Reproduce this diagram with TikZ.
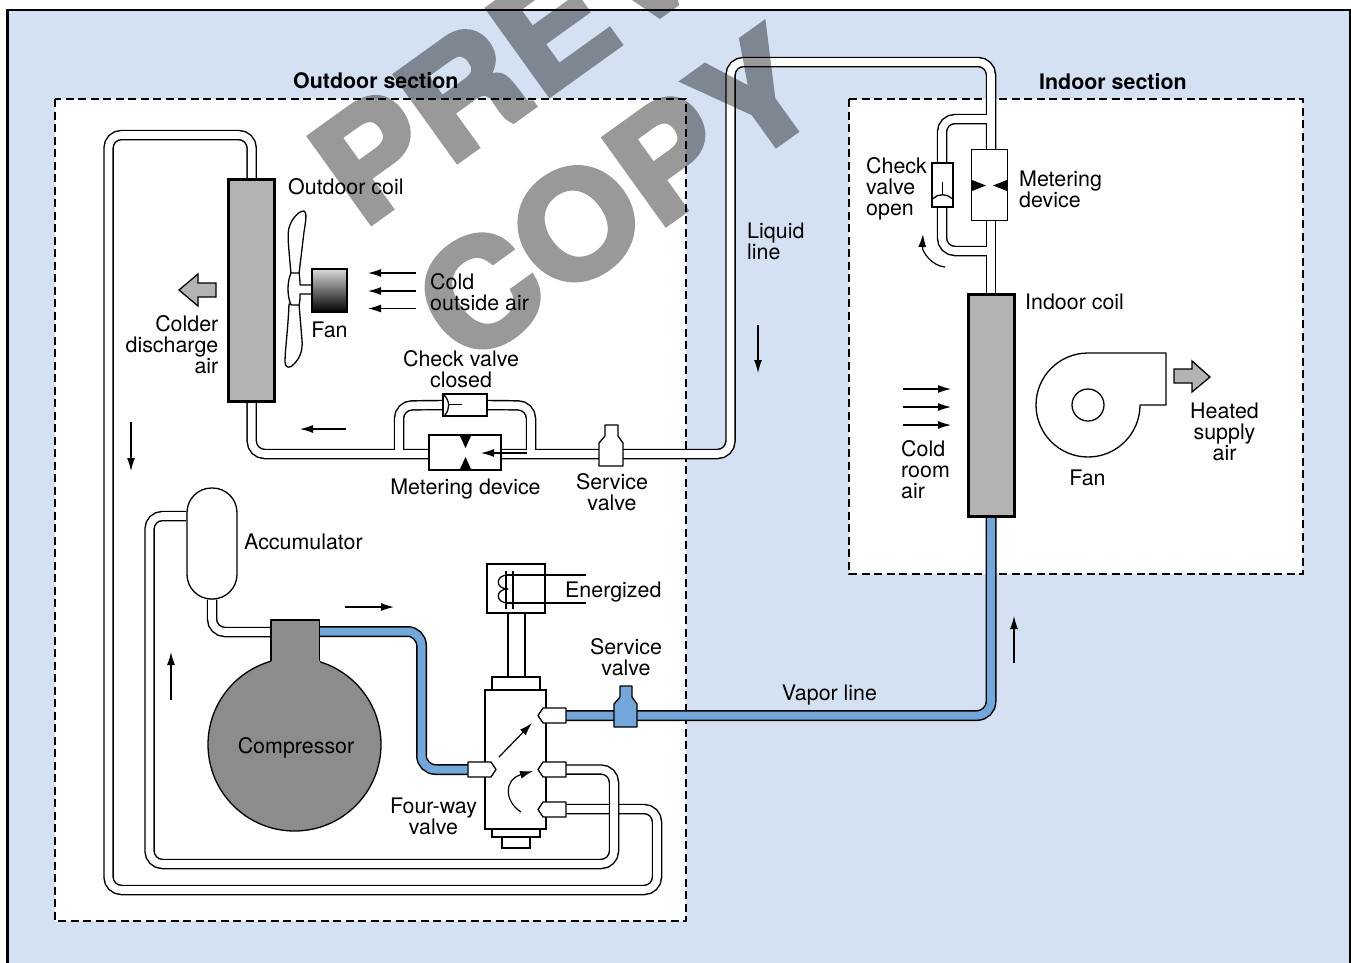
\documentclass[tikz,border=0pt]{standalone}
\usepackage{fontspec}
\setmainfont{TeX Gyre Heros}
\newfontfamily\wmfont[FakeBold=3.4]{TeX Gyre Heros Bold}
\usetikzlibrary{arrows.meta,calc}
\definecolor{panel}{HTML}{D3E1F2}
\definecolor{pipeblue}{HTML}{73A6D9}
\definecolor{coilgray}{HTML}{B3B3B3}
\definecolor{compgray}{HTML}{8C8C8C}
\pgfdeclarelayer{zones}
\pgfdeclarelayer{pipeA}
\pgfdeclarelayer{pipeB}
\pgfdeclarelayer{pipeC}
\pgfdeclarelayer{pipeD}
\pgfsetlayers{zones,pipeA,pipeB,pipeC,pipeD,main}
\pgfdeclareverticalshading{motorshade}{100bp}{color(0bp)=(black);color(25bp)=(black);color(75bp)=(gray!30);color(100bp)=(gray!30)}
\tikzset{
  x=1pt,y=-1pt,
  line/.style={line width=1.3pt,black,line join=round},
  pipeout/.style={line width=10.5pt,black,rounded corners=13pt},
  pipein/.style={line width=7.6pt,white,rounded corners=13pt},
  blueout/.style={line width=11pt,black,rounded corners=14pt},
  bluein/.style={line width=8pt,pipeblue,rounded corners=14pt},
  zone/.style={draw=black,fill=white,line width=1.3pt,dash pattern=on 8pt off 4.5pt},
  coil/.style={draw=black,fill=coilgray,line width=3pt,inner sep=0pt,minimum width=46pt},
  box/.style={draw=black,fill=white,line width=1.3pt,inner sep=0pt},
  lab/.style={inner sep=0pt,font=\fontsize{21.4}{21}\selectfont,align=center},
  labl/.style={lab,align=left,anchor=west},
  labr/.style={lab,align=right,anchor=east},
  head/.style={inner sep=0pt,font=\fontsize{21.4}{21}\selectfont\bfseries},
  flow/.style={line width=1.2pt,-{Latex[length=13pt,width=8pt]}},
  air/.style={flow},
  blockarrow/.style={draw=black,fill=coilgray,line width=1.3pt,line join=miter},
  wm/.style={inner sep=0pt,text=black,font=\fontsize{146}{146}\wmfont,rotate=35.7,xscale=1.08},
}
\newcommand{\pipe}[1]{%
  \begin{pgfonlayer}{pipeA}\draw[pipeout] #1;\end{pgfonlayer}%
  \begin{pgfonlayer}{pipeB}\draw[pipein] #1;\end{pgfonlayer}}
\newcommand{\pipeover}[1]{%
  \begin{pgfonlayer}{pipeC}\draw[pipeout] #1;\end{pgfonlayer}%
  \begin{pgfonlayer}{pipeD}\draw[pipein] #1;\end{pgfonlayer}}
\newcommand{\bluepipe}[1]{%
  \begin{pgfonlayer}{pipeC}\draw[blueout] #1;\end{pgfonlayer}%
  \begin{pgfonlayer}{pipeD}\draw[bluein] #1;\end{pgfonlayer}}
\begin{document}
\begin{tikzpicture}
\useasboundingbox (0,0) rectangle (1351,962);
% panel and zones
\begin{pgfonlayer}{zones}
  \draw[fill=panel,draw=black,line width=2.6pt] (7.5,10) rectangle (1350,985);
  \draw[zone] (55,99) rectangle (686,921);
  \draw[zone] (849,99) rectangle (1303,574);
\end{pgfonlayer}
\node[head,anchor=base west] (hOut) at (293,88) {Outdoor section};
\node[head,anchor=base west] (hIn) at (1039,89) {Indoor section};

% components
\node[coil,minimum height=222pt] (coilO) at (251.7,290.5) {};
\node[coil,minimum height=222pt] (coilI) at (991.3,405) {};
\node[box,minimum width=72pt,minimum height=35pt] (meterO) at (465,452.5) {};
\node[box,minimum width=36pt,minimum height=71pt] (meterI) at (989.5,185) {};
\node[box,minimum width=44pt,minimum height=22pt] (checkO) at (465,405) {};
\node[box,minimum width=21pt,minimum height=44pt] (checkI) at (942.5,185) {};
\node[box,minimum width=50pt,minimum height=111pt,rounded corners=24.5pt] (accum) at (212,543.5) {};
\node[box,minimum width=58pt,minimum height=49pt] (sol) at (516,588.5) {};
\node[box,minimum width=61pt,minimum height=139pt] (valve) at (515.5,759.5) {};
\node[box,minimum width=17pt,minimum height=64pt] (stem) at (516.5,645) {};
\node[box,minimum width=48pt,minimum height=13pt] (capT) at (516,683.5) {};
\node[box,minimum width=48pt,minimum height=8pt] (capB) at (516,833) {};
\node[box,minimum width=28pt,minimum height=11pt] (capB2) at (516,842.5) {};

% compressor
\node[draw=black,fill=compgray,line width=1.3pt,circle,minimum size=173pt,inner sep=0pt] (comp) at (294.5,744.5) {};
\fill[compgray] (271,620) rectangle (319.5,668);
\draw[line] (271,661) -- (271,620) -- (319.5,620) -- (319.5,661);
\coordinate (neckL) at (271,632);
\coordinate (neckR) at (319.5,631.5);

% valve ports
\draw[line,fill=white] (566,708) -- (543,708) -- (538,715.5) -- (543,723) -- (566,723) -- cycle;
\draw[line,fill=white] (566,762) -- (543,762) -- (538,769.5) -- (543,777) -- (566,777) -- cycle;
\draw[line,fill=white] (566,802) -- (543,802) -- (538,809.5) -- (543,817) -- (566,817) -- cycle;
\draw[line,fill=white] (468,762) -- (491,762) -- (496,769.5) -- (491,777) -- (468,777) -- cycle;
\coordinate (portVap) at (566,715.5);
\coordinate (portUp) at (566,769.5);
\coordinate (portLo) at (566,809);
\coordinate (portIn) at (468,769.5);

% pipes
\pipe{(coilO.south) -- (251.7,454) -- (730.5,454) -- (730.5,62) -- (991,62) -- (991,150)}
\pipe{(399,454) -- (399,405.5) -- (checkO.west)}
\pipe{(checkO.east) -- (531,405.5) -- (531,454)}
\pipe{(meterI.south -| 991,0) -- (991,294)}
\pipe{(991,119) -- (942,119) -- (checkI.north -| 942,0)}
\pipe{(checkI.south -| 942,0) -- (942,251) -- (991,251)}
\pipe{(coilO.north) -- (251.7,135) -- (108.5,135) -- (108.5,890) -- (657,890) -- (657,809) -- (portLo)}
\pipeover{(portUp) -- (614,769.5) -- (614,864) -- (149.5,864) -- (149.5,516) -- (accum.west |- 0,516)}
\pipe{(accum.south) -- (212,632) -- (neckL)}
\bluepipe{(neckR) -- (421.5,631.5) -- (421.5,769.5) -- (portIn)}
\bluepipe{(portVap) -- (991,715.5) -- (coilI.south -| 991,0)}

% metering device insides
\fill (460,436) -- (471,436) -- (465.5,448) -- cycle;
\fill (460,469) -- (471,469) -- (465.5,457) -- cycle;
\draw[flow] (527,453) -- (481,453);
\fill (972,180) -- (972,191) -- (986,185.5) -- cycle;
\fill (1007,180) -- (1007,191) -- (993,185.5) -- cycle;

% check valve flaps
\draw[line] (444,395) .. controls (450,401) and (450,409) .. (445,415);
\draw[line] (448.5,404.5) -- (462,404.5);
\draw[line] (933,198.5) .. controls (938,193.5) and (947,193.5) .. (952,198.5);
\draw[line] (942.5,195) -- (942.5,182);

% service valves
\draw[line,fill=white] (599,466) -- (623,466) -- (623,443) -- (618,436) -- (618,425) -- (605,425) -- (605,436) -- (599,443) -- cycle;
\draw[line,fill=pipeblue] (614,727) -- (637,727) -- (637,704) -- (632,697) -- (632,686) -- (620,686) -- (620,697) -- (614,704) -- cycle;

% solenoid
\draw[line] (505,575) -- (586,575);
\draw[line] (505,603) -- (586,603);
\draw[line] (506,571) -- (506,609);
\draw[line] (513,571) -- (513,609);
\draw[line] (508,575) .. controls (495,575) and (495,589) .. (508,589) .. controls (495,589) and (495,603) .. (508,603);

% four-way valve arrows
\draw[flow] (499,757) -- (532,723);
\draw[flow] (521,812) .. controls (505,802) and (503,780) .. (533,771);

% outdoor fan
\draw[line,fill=white] (291,274) .. controls (289,250) and (287,235) .. (289,228) .. controls (291,220) and (298,211) .. (304,211) .. controls (307,212) and (306,220) .. (304,232) -- (299,274) -- cycle;
\draw[line,fill=white] (289,304) .. controls (288,330) and (285,350) .. (285,362) .. controls (285,368) and (290,369) .. (294,364) .. controls (300,358) and (303,350) .. (302,340) -- (299,304) -- cycle;
\draw[line,fill=white] (291,273) -- (299,273) .. controls (300,278) and (300,283) .. (300,285) -- (312,285) -- (312,294) -- (300,294) .. controls (300,298) and (300,302) .. (299,305) -- (291,305) .. controls (287,296) and (287,282) .. (291,273) -- cycle;
\node[line width=1.3pt,draw=black,shading=motorshade,minimum width=35pt,minimum height=43pt,inner sep=0pt] (motor) at (329.5,290.5) {};

% blower
\draw[line,fill=white] (1166,353) -- (1088,353) .. controls (1059.3,353) and (1036,376.3) .. (1036,405) .. controls (1036,433.7) and (1059.3,457) .. (1088,457) .. controls (1116.7,457) and (1140,433.7) .. (1140,405) -- (1166,405) -- cycle;
\node[draw=black,line width=1.3pt,circle,minimum size=32pt,inner sep=0pt] (hub) at (1088,405) {};

% block arrows
\draw[blockarrow] (216,283) -- (198,283) -- (198,274) -- (179,290) -- (198,306) -- (198,297) -- (216,297) -- cycle;
\draw[blockarrow] (1174,369) -- (1192,369) -- (1192,361) -- (1210,377) -- (1192,392) -- (1192,383) -- (1174,383) -- cycle;

% flow arrows
\draw[flow] (346,429) -- (300,429);
\draw[flow] (131,422) -- (131,471);
\draw[flow] (345,607) -- (394,607);
\draw[flow] (171,700) -- (171,652);
\draw[flow] (758,325) -- (758,373);
\draw[flow] (1014,663) -- (1014,616);
\draw[air] (416,273) -- (368,273);
\draw[air] (416,291) -- (368,291);
\draw[air] (416,308.5) -- (368,308.5);
\draw[air] (903,389) -- (951,389);
\draw[air] (903,407) -- (951,407);
\draw[air] (903,425) -- (951,425);
\draw[flow] (945,267) .. controls (932,266) and (922,252) .. (923,234);

% labels
\node[labl] (tOutCoil) at (288,187) {Outdoor coil};
\node[labr] (tColder) at (218.5,345) {Colder\\discharge\\air};
\node[lab] (tFanO) at (329.5,330) {Fan};
\node[labl] (tCold) at (430,292.5) {Cold\\outside air};
\node[lab] (tCheckC) at (461,369.5) {Check valve\\closed};
\node[lab] (tMeterO) at (465.5,489) {Metering device};
\node[lab] (tServO) at (612,492.5) {Service\\valve};
\node[labl] (tLiquid) at (747,241.5) {Liquid\\line};
\node[labl] (tAccum) at (244,541.5) {Accumulator};
\node[labl] (tEnerg) at (565,592) {Energized};
\node[lab] (tServV) at (626,657.5) {Service\\valve};
\node[lab] (tVapor) at (829.5,695) {Vapor line};
\node[lab] (tComp) at (296,748) {Compressor};
\node[lab] (tFour) at (433.5,816.5) {Four-way\\valve};
\node[labl] (tCheckI) at (866,189) {Check\\valve\\open};
\node[labl] (tMeterI) at (1019,189.5) {Metering\\device};
\node[labl] (tInCoil) at (1025,302) {Indoor coil};
\node[labl] (tColdR) at (901,470) {Cold\\room\\air};
\node[lab] (tFanI) at (1087.5,478) {Fan};
\node[lab] (tHeated) at (1224.5,432) {Heated\\supply\\air};

% watermark
\begin{scope}[transparency group,opacity=0.4]
\node[wm,anchor=base west] (wm1) at (362,230) {PREVIEW};
\node[wm,anchor=base west] (wm2) at (465,369) {COPY};
\end{scope}
\end{tikzpicture}
\end{document}
